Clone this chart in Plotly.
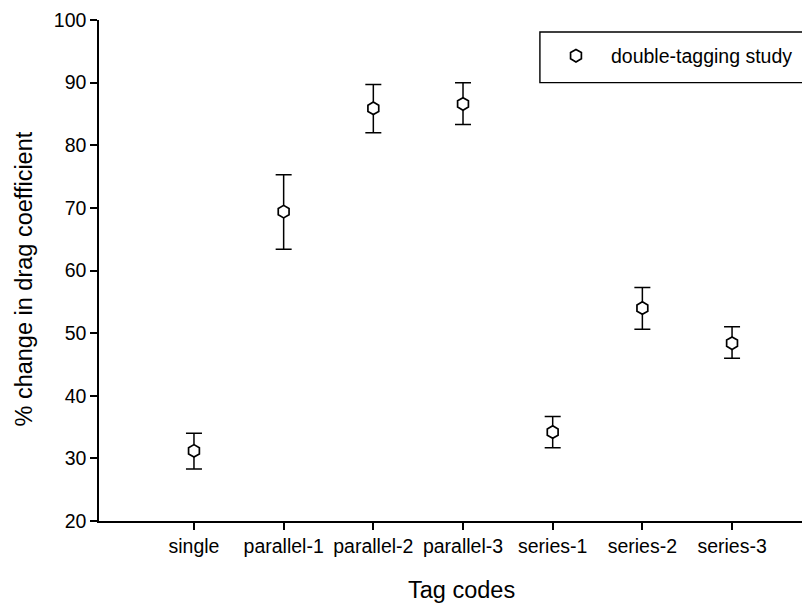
import plotly.graph_objects as go

categories = ["single", "parallel-1", "parallel-2", "parallel-3", "series-1", "series-2", "series-3"]
means = [31.2, 69.4, 85.9, 86.6, 34.2, 54.0, 48.4]
upper = [34.0, 75.3, 89.7, 90.0, 36.7, 57.3, 51.0]
lower = [28.3, 63.4, 82.0, 83.3, 31.7, 50.6, 46.0]
series_name = "double-tagging study"
y_ticks = [20, 30, 40, 50, 60, 70, 80, 90, 100]

err_plus = [u - m for u, m in zip(upper, means)]
err_minus = [m - l for m, l in zip(means, lower)]

FONT = "Liberation Sans, Arial, sans-serif"

fig = go.Figure()
fig.add_trace(go.Scatter(
    x=categories, y=means, mode="markers", name=series_name,
    marker=dict(symbol="hexagon", size=12.5, color="white",
                line=dict(color="black", width=1.7)),
    error_y=dict(type="data", symmetric=False, array=err_plus, arrayminus=err_minus,
                 color="black", thickness=1.5, width=8),
    showlegend=True,
))

fig.update_layout(
    width=802, height=596,
    margin=dict(l=91, r=1, t=9.3, b=83.3),
    paper_bgcolor="white", plot_bgcolor="white",
    font=dict(family=FONT, size=19.5, color="black"),
    showlegend=True,
    legend=dict(x=0.6225, xanchor="left", y=0.967, yanchor="top",
                borderwidth=0, bgcolor="rgba(0,0,0,0)",
                itemwidth=60, font=dict(size=19.5)),
    shapes=[dict(type="rect", xref="paper", yref="paper",
                 x0=0.621, x1=0.999, y0=0.875, y1=0.976,
                 line=dict(color="black", width=1.4), fillcolor="rgba(0,0,0,0)",
                 layer="above")],
    xaxis=dict(type="category", categoryorder="array", categoryarray=categories,
               range=[-1.059, 6.858], showgrid=False, zeroline=False,
               showline=True, linecolor="black", linewidth=1.5,
               ticks="outside", ticklen=7, tickwidth=1.5, tickcolor="black",
               tickfont=dict(size=19.5)),
    yaxis=dict(range=[20, 100], tickvals=y_ticks, showgrid=False, zeroline=False,
               showline=True, linecolor="black", linewidth=1.5,
               ticks="outside", ticklen=7, tickwidth=1.5, tickcolor="black",
               tickfont=dict(size=19.5), ticklabeloverflow="allow"),
    annotations=[
        dict(text="Tag codes", xref="paper", yref="paper", x=0.511, y=-0.1377,
             xanchor="center", yanchor="middle", showarrow=False,
             font=dict(size=23.5)),
        dict(text="% change in drag coefficient", xref="paper", yref="paper",
             x=-0.107, y=0.482, xanchor="center", yanchor="middle",
             textangle=-90, showarrow=False, font=dict(size=23.5)),
    ],
)

fig.write_html("out.html")
